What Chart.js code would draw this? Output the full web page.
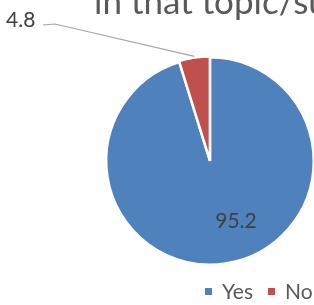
<!DOCTYPE html>
<html><head><meta charset="utf-8">
<script src="https://cdn.jsdelivr.net/npm/chart.js@4"></script>
<style>
html,body{margin:0;padding:0;overflow:hidden;background:#fff;width:314px;height:305px}
#wrap{position:absolute;left:0;top:0;width:330px;height:305px}
</style></head><body>
<div id="wrap"><canvas id="c" width="330" height="305"></canvas></div>
<script>
const categories = ["Yes", "No"];
const values = [95.2, 4.8];
const valueLabels = ["95.2", "4.8"];
const titleText = "in that topic/subject";
const colors = ["#4F81BD", "#C0504D"];
const FONT = "Lato, 'Liberation Sans', sans-serif";

const overlay = {
  id: 'overlay',
  afterDraw(chart) {
    const ctx = chart.ctx;
    ctx.save();
    // title (cropped at top)
    ctx.fillStyle = '#595959';
    ctx.font = '35px ' + FONT;
    ctx.textBaseline = 'alphabetic';
    ctx.textAlign = 'left';
    ctx.fillText(titleText, 94, 14);
    const meta = chart.getDatasetMeta(0);
    // 95.2 label
    ctx.fillStyle = '#404040';
    ctx.font = '21px ' + FONT;
    ctx.textAlign = 'center';
    ctx.textBaseline = 'middle';
    ctx.fillText(valueLabels[0], 236, 221);
    // 4.8 label with leader line
    const a1 = meta.data[1];
    const mid = (a1.startAngle + a1.endAngle) / 2;
    const ex = a1.x + Math.cos(mid) * a1.outerRadius;
    const ey = a1.y + Math.sin(mid) * a1.outerRadius;
    ctx.strokeStyle = '#A6A6A6';
    ctx.lineWidth = 1.2;
    ctx.beginPath();
    ctx.moveTo(43, 25);
    ctx.lineTo(55, 24);
    ctx.lineTo(ex, ey - 2);
    ctx.stroke();
    ctx.textAlign = 'left';
    ctx.fillText(valueLabels[1], 6, 20);
    // legend
    ctx.font = '21px ' + FONT;
    ctx.textBaseline = 'middle';
    let x = 205;
    const y = 292;
    categories.forEach((c, i) => {
      ctx.fillStyle = colors[i];
      ctx.fillRect(x, y - 4, 7, 7);
      ctx.fillStyle = '#595959';
      ctx.fillText(c, x + 17, y);
      x += 17 + ctx.measureText(c).width + 15;
    });
    ctx.restore();
  }
};

new Chart(document.getElementById('c'), {
  type: 'pie',
  data: {
    labels: categories,
    datasets: [{
      data: values,
      backgroundColor: colors,
      borderColor: '#ffffff',
      borderWidth: 2.5,
      offset: [0, 2]
    }]
  },
  options: {
    responsive: false,
    animation: false,
    devicePixelRatio: 1,
    layout: { padding: { left: 104, right: 14, top: 55, bottom: 38 } },
    plugins: { legend: { display: false }, tooltip: { enabled: false }, title: { display: false } }
  },
  plugins: [overlay]
});
</script>
</body></html>
